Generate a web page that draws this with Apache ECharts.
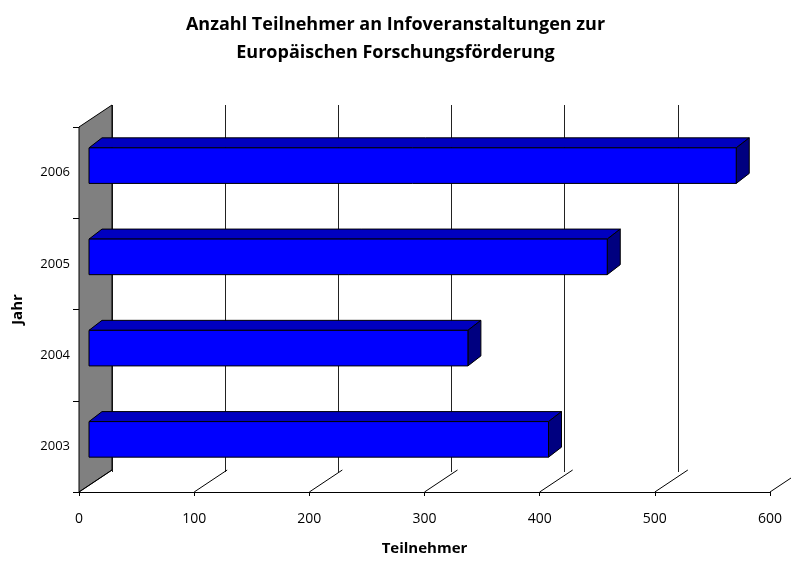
<!DOCTYPE html>
<html>
<head>
<meta charset="utf-8">
<script src="https://cdn.jsdelivr.net/npm/echarts@6/dist/echarts.min.js"></script>
<style>
  html, body { margin: 0; padding: 0; background: #fff; }
  #chart { width: 791px; height: 561px; }
</style>
</head>
<body>
<div id="chart"></div>
<script>
// data
var years = ['2003', '2004', '2005', '2006'];
var participants = [399, 329, 450, 562];
var xTicks = [0, 100, 200, 300, 400, 500, 600];

// 3d look
var depthX = 33, depthY = -22;   // wall / floor depth
var barOffX = 10, barOffY = -7;  // bar front plane inside the box
var barDX = 13, barDY = -10;     // bar depth
var fontFam = '"Open Sans", "Noto Sans", sans-serif';

var chart = echarts.init(document.getElementById('chart'));

var option = {
  backgroundColor: '#fff',
  animation: false,
  title: {
    text: 'Anzahl Teilnehmer an Infoveranstaltungen zur\nEuropäischen Forschungsförderung',
    left: 'center',
    top: 6,
    textStyle: { fontSize: 18, fontWeight: 'bold', color: '#000', lineHeight: 28, fontFamily: fontFam }
  },
  grid: [
    { left: 79, right: 21, top: 127, bottom: 67 },
    { left: 79 + depthX, right: 21 - depthX, top: 127 + depthY, bottom: 67 - depthY }
  ],
  xAxis: [{
    type: 'value', gridIndex: 0, min: 0, max: 600, interval: 100,
    axisLine: { show: true, lineStyle: { color: '#000', width: 1 } },
    axisTick: { show: true, length: 4, lineStyle: { color: '#000' } },
    axisLabel: { margin: 20, fontSize: 14, color: '#000', fontFamily: fontFam },
    splitLine: { show: false },
    name: 'Teilnehmer', nameLocation: 'middle', nameGap: 49,
    nameTextStyle: { fontSize: 15, fontWeight: 'bold', color: '#000', fontFamily: fontFam }
  }, {
    type: 'value', gridIndex: 1, min: 0, max: 600, interval: 100,
    axisLine: { show: false }, axisTick: { show: false }, axisLabel: { show: false },
    splitLine: { show: true, lineStyle: { color: '#222', width: 1 } }
  }],
  yAxis: [{
    type: 'category', gridIndex: 0, data: years,
    axisLine: { show: true, lineStyle: { color: '#000', width: 1 } },
    axisTick: { show: true, length: 6, lineStyle: { color: '#000' } },
    axisLabel: { margin: 9, fontSize: 13, color: '#000', fontFamily: fontFam, padding: [9, 0, 0, 0] },
    name: 'Jahr', nameLocation: 'middle', nameGap: 54, nameRotate: 90,
    nameTextStyle: { fontSize: 15, fontWeight: 'bold', color: '#000', fontFamily: fontFam }
  }, {
    type: 'category', gridIndex: 1, data: years, show: false
  }],
  series: [{
    // side wall and floor lines
    type: 'custom',
    xAxisIndex: 0, yAxisIndex: 0,
    clip: false, silent: true, z: 1,
    data: xTicks.map(function (v) { return [v, 0]; }),
    renderItem: function (params, api) {
      var p = api.coord([api.value(0), 0]);
      var band = api.size([0, 1])[1];
      var yb = p[1] + band / 2;
      var children = [{
        type: 'line',
        shape: { x1: p[0], y1: yb, x2: p[0] + depthX, y2: yb + depthY },
        style: { stroke: '#000', lineWidth: 1 }
      }];
      if (params.dataIndex === 0) {
        var top = api.coord([0, years.length - 1])[1] - band / 2;
        children.unshift({
          type: 'polygon',
          shape: { points: [[p[0], top], [p[0] + depthX, top + depthY], [p[0] + depthX, yb + depthY], [p[0], yb]] },
          style: { fill: '#808080', stroke: '#000', lineWidth: 1 }
        });
      }
      return { type: 'group', children: children };
    }
  }, {
    // 3d bars
    type: 'custom',
    xAxisIndex: 0, yAxisIndex: 0,
    clip: false, z: 3,
    data: participants.map(function (v, i) { return [v, i]; }),
    renderItem: function (params, api) {
      var p0 = api.coord([0, api.value(1)]);
      var p1 = api.coord([api.value(0), api.value(1)]);
      var band = api.size([0, 1])[1];
      var h = band * 0.39;
      var x0 = p0[0] + barOffX, x1 = p1[0] + barOffX;
      var yt = p0[1] + barOffY - h / 2, yb = yt + h;
      var st = { stroke: '#000', lineWidth: 1 };
      return {
        type: 'group',
        children: [{
          type: 'polygon',
          shape: { points: [[x0, yt], [x0 + barDX, yt + barDY], [x1 + barDX, yt + barDY], [x1, yt]] },
          style: Object.assign({ fill: '#0000C0' }, st)
        }, {
          type: 'polygon',
          shape: { points: [[x1, yt], [x1 + barDX, yt + barDY], [x1 + barDX, yb + barDY], [x1, yb]] },
          style: Object.assign({ fill: '#000080' }, st)
        }, {
          type: 'rect',
          shape: { x: x0, y: yt, width: x1 - x0, height: h },
          style: Object.assign({ fill: '#0000FF' }, st)
        }]
      };
    }
  }]
};

chart.setOption(option);
</script>
</body>
</html>
